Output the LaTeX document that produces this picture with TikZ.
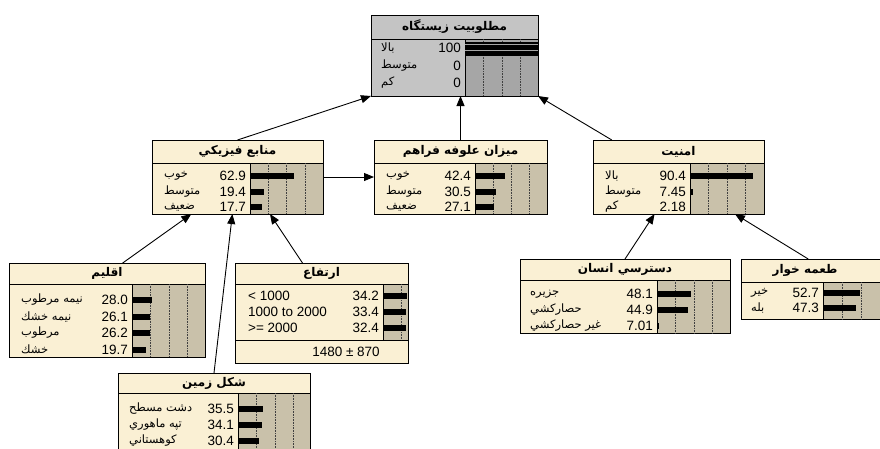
\documentclass[tikz,border=0pt]{standalone}
\usepackage{fontspec}
\setmainfont{Liberation Sans}
\newfontfamily\fa[Script=Arabic]{DejaVu Sans}
\TeXXeTstate=1
\usepackage{tikz}
\usetikzlibrary{calc,arrows.meta}

\definecolor{nodecream}{RGB}{250,240,212}
\definecolor{bartan}{RGB}{201,193,170}
\definecolor{evgray}{RGB}{196,196,196}
\definecolor{evpanel}{RGB}{166,166,166}

\begin{document}
\begin{tikzpicture}[x=1pt,y=-1pt,
  box/.style={draw, line width=1pt, fill=nodecream, inner sep=0pt, outer sep=0pt},
  sep/.style={line width=1pt},
  panel/.style={draw, line width=.8pt, fill=bartan},
  grid/.style={densely dotted, line width=.6pt, black!75},
  ttl/.style={inner sep=0pt, font=\fa\bfseries\fontsize{12}{14}\selectfont},
  lab/.style={anchor=west, inner sep=0pt, font=\fa\fontsize{11.5}{13}\selectfont},
  ltr/.style={anchor=west, inner sep=0pt, font=\fontsize{13.5}{15}\selectfont},
  val/.style={anchor=east, inner sep=0pt, font=\fontsize{13.5}{15}\selectfont},
  link/.style={line width=.9pt, -{Stealth[length=10pt,width=8pt,inset=0pt]}}]

\clip (0,0) rectangle (880,448);
\fill[white] (0,0) rectangle (880,448);

% top node (evidence set, grey)
\node (hab) at (454.5,55.5) [box, fill=evgray, minimum width=167pt, minimum height=81pt] {};
\draw[sep] (371,39) -- (538,39);
\filldraw[panel, fill=evpanel] (465,39) rectangle (538,96);
\draw[grid] (483,39) -- (483,96) (502,39) -- (502,96) (520,39) -- (520,96);
\fill (465,42) rectangle (538,56);
\draw[evpanel, line width=.8pt] (465,44) -- (538,44) (465,50.5) -- (538,50.5);
\node (habT) at (454.5,27) [ttl] {\beginR مطلوبيت زيستگاه\endR};
\node (hab1) at (381,48) [lab] {\beginR بالا\endR};
\node (hab1v) at (461,48) [val] {100};
\node (hab2) at (381,66) [lab] {\beginR متوسط\endR};
\node (hab2v) at (461,66) [val] {0};
\node (hab3) at (381,83) [lab] {\beginR كم\endR};
\node (hab3v) at (461,83) [val] {0};

% physical resources
\node (manabe) at (237.5,177) [box, minimum width=171pt, minimum height=74pt] {};
\draw[sep] (152,163) -- (323,163);
\filldraw[panel] (250,163) rectangle (323,214);
\draw[grid] (268,163) -- (268,214) (286.5,163) -- (286.5,214) (305,163) -- (305,214);
\node (manabeT) at (237.5,151.5) [ttl] {\beginR منابع فيزيكي\endR};
\node (manabe1) at (164,176) [lab] {\beginR خوب\endR};
\node (manabe1v) at (246,176) [val] {62.9};
\fill (250,173) rectangle (294,179);
\node (manabe2) at (164,192) [lab] {\beginR متوسط\endR};
\node (manabe2v) at (246,192) [val] {19.4};
\fill (250,189) rectangle (263.6,195);
\node (manabe3) at (164,207) [lab] {\beginR ضعيف\endR};
\node (manabe3v) at (246,207) [val] {17.7};
\fill (250,204) rectangle (262.4,210);

% forage
\node (mizan) at (460.5,177) [box, minimum width=173pt, minimum height=74pt] {};
\draw[sep] (374,163) -- (547,163);
\filldraw[panel] (475,163) rectangle (547,214);
\draw[grid] (493,163) -- (493,214) (511,163) -- (511,214) (529,163) -- (529,214);
\node (mizanT) at (460.5,151.5) [ttl] {\beginR ميزان علوفه فراهم\endR};
\node (mizan1) at (386,176) [lab] {\beginR خوب\endR};
\node (mizan1v) at (471,176) [val] {42.4};
\fill (475,173) rectangle (504.7,179);
\node (mizan2) at (386,192) [lab] {\beginR متوسط\endR};
\node (mizan2v) at (471,192) [val] {30.5};
\fill (475,189) rectangle (496.4,195);
\node (mizan3) at (386,207) [lab] {\beginR ضعيف\endR};
\node (mizan3v) at (471,207) [val] {27.1};
\fill (475,204) rectangle (494,210);

% security
\node (amniyat) at (678.5,177) [box, minimum width=171pt, minimum height=74pt] {};
\draw[sep] (593,163) -- (764,163);
\filldraw[panel] (690,163) rectangle (764,214);
\draw[grid] (708.5,163) -- (708.5,214) (727,163) -- (727,214) (745.5,163) -- (745.5,214);
\node (amniyatT) at (678.5,151.5) [ttl] {\beginR امنيت\endR};
\node (amniyat1) at (605,176) [lab] {\beginR بالا\endR};
\node (amniyat1v) at (686,176) [val] {90.4};
\fill (690,173) rectangle (753.3,179);
\node (amniyat2) at (605,192) [lab] {\beginR متوسط\endR};
\node (amniyat2v) at (686,192) [val] {7.45};
\fill (690,189) rectangle (692.5,195);
\node (amniyat3) at (605,207) [lab] {\beginR كم\endR};
\node (amniyat3v) at (686,207) [val] {2.18};

% climate
\node (aqlim) at (107,310) [box, minimum width=196pt, minimum height=94pt] {};
\draw[sep] (9,284) -- (205,284);
\filldraw[panel] (132,284) rectangle (205,357);
\draw[grid] (150.5,284) -- (150.5,357) (169,284) -- (169,357) (187.5,284) -- (187.5,357);
\node (aqlimT) at (107,273.5) [ttl] {\beginR اقليم\endR};
\node (aqlim1) at (21,300) [lab] {\beginR نيمه مرطوب\endR};
\node (aqlim1v) at (128,300) [val] {28.0};
\fill (132,297) rectangle (151.6,303);
\node (aqlim2) at (21,316.5) [lab] {\beginR نيمه خشك\endR};
\node (aqlim2v) at (128,316.5) [val] {26.1};
\fill (132,313.5) rectangle (150.3,319.5);
\node (aqlim3) at (21,333) [lab] {\beginR مرطوب\endR};
\node (aqlim3v) at (128,333) [val] {26.2};
\fill (132,330) rectangle (150.3,336);
\node (aqlim4) at (21,349.5) [lab] {\beginR خشك\endR};
\node (aqlim4v) at (128,349.5) [val] {19.7};
\fill (132,346.5) rectangle (145.8,352.5);

% altitude
\node (ertefa) at (321.5,313) [box, minimum width=173pt, minimum height=100pt] {};
\draw[sep] (235,284) -- (408,284);
\draw[sep] (235,340) -- (408,340);
\filldraw[panel] (383,284) rectangle (408,340);
\draw[grid] (401,284) -- (401,340);
\node (ertefaT) at (321.5,273.5) [ttl] {\beginR ارتفاع\endR};
\node (ertefa1) at (248,296) [ltr] {< 1000};
\node (ertefa1v) at (379,296) [val] {34.2};
\fill (383,293) rectangle (407,299);
\node (ertefa2) at (248,312) [ltr] {1000 to 2000};
\node (ertefa2v) at (379,312) [val] {33.4};
\fill (383,309) rectangle (406.4,315);
\node (ertefa3) at (248,328) [ltr] {>= 2000};
\node (ertefa3v) at (379,328) [val] {32.4};
\fill (383,325) rectangle (405.7,331);
\node (ertefaM) at (346,352) [inner sep=0pt, font=\fontsize{13.5}{15}\selectfont] {1480 ± 870};

% human access
\node (dastrasi) at (625,296) [box, minimum width=210pt, minimum height=74pt] {};
\draw[sep] (520,280) -- (730,280);
\filldraw[panel] (657,280) rectangle (730,333);
\draw[grid] (675.5,280) -- (675.5,333) (694,280) -- (694,333) (712.5,280) -- (712.5,333);
\node (dastrasiT) at (625,269.5) [ttl] {\beginR دسترسي انسان\endR};
\node (dastrasi1) at (530,294) [lab] {\beginR جزيره\endR};
\node (dastrasi1v) at (653,294) [val] {48.1};
\fill (657,291) rectangle (690.7,297);
\node (dastrasi2) at (530,310) [lab] {\beginR حصاركشي\endR};
\node (dastrasi2v) at (653,310) [val] {44.9};
\fill (657,307) rectangle (688.4,313);
\node (dastrasi3) at (530,326) [lab] {\beginR غير حصاركشي\endR};
\node (dastrasi3v) at (653,326) [val] {7.01};
\fill (657,323) rectangle (659,329);

% predators
\node (teme) at (823,289) [box, minimum width=164pt, minimum height=60pt] {};
\draw[sep] (741,282) -- (905,282);
\filldraw[panel] (823,282) rectangle (905,319);
\draw[grid] (842,282) -- (842,319) (861,282) -- (861,319) (880,282) -- (880,319);
\node (temeT) at (805,270.5) [ttl] {\beginR طعمه خوار\endR};
\node (teme1) at (751,293) [lab] {\beginR خير\endR};
\node (teme1v) at (819,293) [val] {52.7};
\fill (823,290) rectangle (859.9,296);
\node (teme2) at (751,308) [lab] {\beginR بله\endR};
\node (teme2v) at (819,308) [val] {47.3};
\fill (823,305) rectangle (856.1,311);

% landform
\node (shekl) at (214,416.5) [box, minimum width=192pt, minimum height=87pt] {};
\draw[sep] (118,393) -- (310,393);
\filldraw[panel] (238,393) rectangle (310,460);
\draw[grid] (256.5,393) -- (256.5,460) (275,393) -- (275,460) (293.5,393) -- (293.5,460);
\node (sheklT) at (214,383) [ttl] {\beginR شكل زمين\endR};
\node (shekl1) at (129,409) [lab] {\beginR دشت مسطح\endR};
\node (shekl1v) at (234,409) [val] {35.5};
\fill (238,406) rectangle (262.9,412);
\node (shekl2) at (129,425) [lab] {\beginR تپه ماهوري\endR};
\node (shekl2v) at (234,425) [val] {34.1};
\fill (238,422) rectangle (261.9,428);
\node (shekl3) at (129,441) [lab] {\beginR كوهستاني\endR};
\node (shekl3v) at (234,441) [val] {30.4};
\fill (238,438) rectangle (259.3,444);

% links
\draw[link] (manabe.north) -- (hab.south west);
\draw[link] (mizan.north) -- (mizan.north |- hab.south);
\draw[link] ($(amniyat.north west)!.11!(amniyat.north east)$) -- (hab.south east);
\draw[link] (manabe.east) -- (mizan.west);
\draw[link] ($(aqlim.north west)!.58!(aqlim.north east)$) -- ($(manabe.south west)!.23!(manabe.south east)$);
\draw[link] (shekl.north) -- ($(manabe.south west)!.47!(manabe.south east)$);
\draw[link] ($(ertefa.north west)!.39!(ertefa.north east)$) -- ($(manabe.south west)!.69!(manabe.south east)$);
\draw[link] (dastrasi.north) -- ($(amniyat.south west)!.36!(amniyat.south east)$);
\draw[link] ($(teme.north west)!.41!(teme.north east)$) -- ($(amniyat.south west)!.83!(amniyat.south east)$);

\end{tikzpicture}
\end{document}
